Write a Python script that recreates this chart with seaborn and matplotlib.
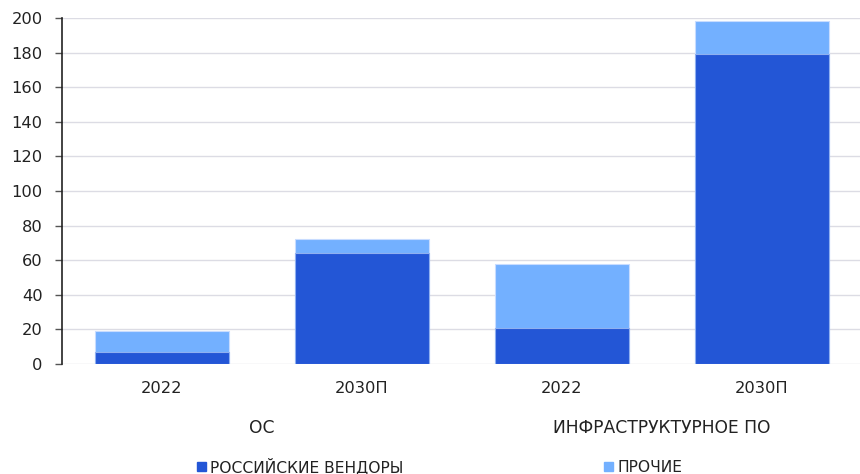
# Stacked bar chart: OS and infrastructure software market, 2022 vs 2030 forecast
import pandas as pd
import matplotlib.pyplot as plt
import seaborn as sns
from matplotlib.patches import Patch

# Data
groups = ['ОС', 'ОС', 'ИНФРАСТРУКТУРНОЕ ПО', 'ИНФРАСТРУКТУРНОЕ ПО']
years = ['2022', '2030П', '2022', '2030П']
russian = [7, 64, 21, 179]
other = [12, 8, 37, 19]
series_names = ['РОССИЙСКИЕ ВЕНДОРЫ', 'ПРОЧИЕ']

dark = '#2356d6'
light = '#73b0ff'

df = pd.DataFrame({
    'key': [f'{g} {y}' for g, y in zip(groups, years)],
    'russian': russian,
    'total': [a + b for a, b in zip(russian, other)],
})

sns.set_theme(style='white')
plt.rcParams['font.family'] = ['DejaVu Sans']

fig = plt.figure(figsize=(8.6, 4.74), dpi=100)
ax = fig.add_axes([62 / 860, 1 - 364 / 474, 800 / 860, 346 / 474])

sns.barplot(data=df, x='key', y='total', color=light, width=0.667,
            edgecolor='#c8dcff', linewidth=0.8, saturation=1, ax=ax)
sns.barplot(data=df, x='key', y='russian', color=dark, width=0.667,
            edgecolor='#8fb0f0', linewidth=0.8, saturation=1, ax=ax)

ax.set_ylim(0, 200)
ax.set_xlim(-0.5, 3.5)
ax.set_yticks(range(0, 201, 20))
ax.yaxis.grid(True, color='#dcdce4', linewidth=1)
ax.set_axisbelow(True)
ax.set_xlabel('')
ax.set_ylabel('')
ax.set_xticks(range(4))
ax.set_xticklabels(years)

for side in ['top', 'right', 'bottom']:
    ax.spines[side].set_visible(False)
ax.spines['left'].set_color('#222222')
ax.spines['left'].set_linewidth(1.2)
ax.tick_params(axis='y', left=True, length=5, width=1, color='#555555',
               labelsize=11.7, labelcolor='#222222', pad=9)
ax.tick_params(axis='x', bottom=False, labelsize=11.7, labelcolor='#222222', pad=6)

# Group labels under the year labels
ax.text(0.5, -0.185, 'ОС', transform=ax.get_xaxis_transform(),
        ha='center', va='center', fontsize=12.3, color='#222222')
ax.text(2.5, -0.185, 'ИНФРАСТРУКТУРНОЕ ПО', transform=ax.get_xaxis_transform(),
        ha='center', va='center', fontsize=12.3, color='#222222')

handles = [Patch(color=dark), Patch(color=light)]
fig.legend(handles, series_names, loc='center left', bbox_to_anchor=(197 / 860, 1 - 466 / 474),
           ncol=2, frameon=False, fontsize=11.2, handlelength=0.55, handleheight=0.55,
           handletextpad=0.3, columnspacing=12.9, borderaxespad=0, borderpad=0,
           labelcolor='#222222')

fig.savefig('out.png', dpi=100)
